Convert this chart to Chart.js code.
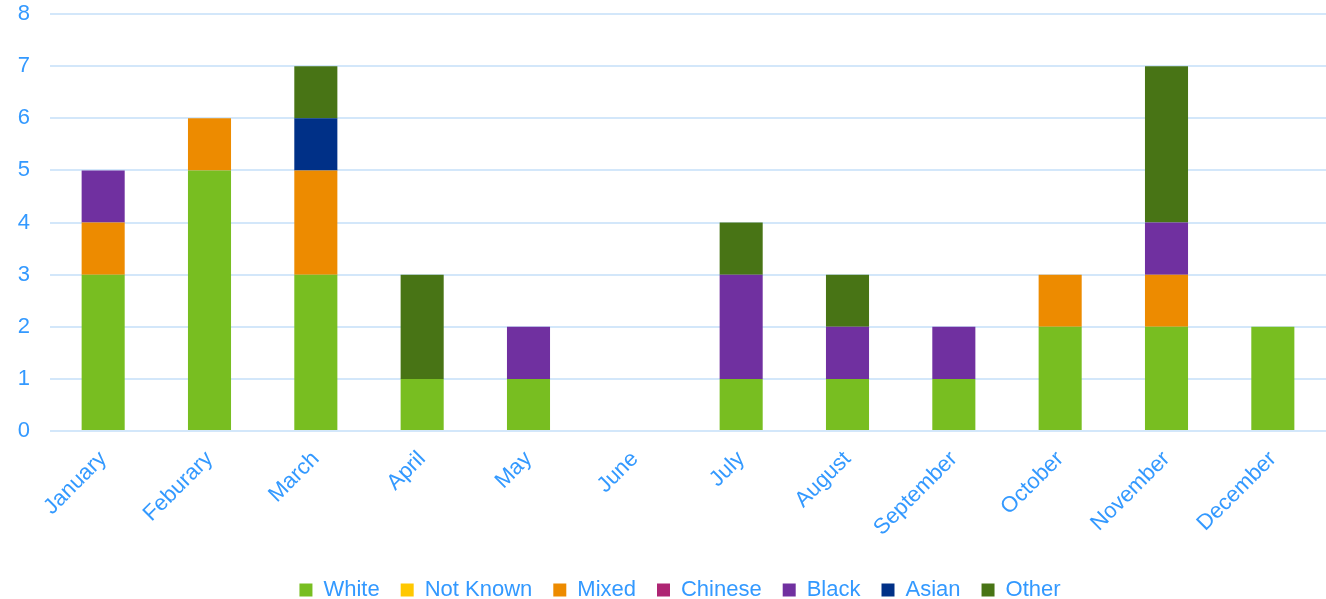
<!DOCTYPE html>
<html>
<head>
<meta charset="utf-8">
<script src="https://cdn.jsdelivr.net/npm/chart.js@4"></script>
<style>
  html, body { margin: 0; padding: 0; background: #fff; }
  #wrap { width: 1326px; height: 599px; }
</style>
</head>
<body>
<div id="wrap"><canvas id="chart"></canvas></div>
<script>
const months = ['January', 'Feburary', 'March', 'April', 'May', 'June', 'July', 'August', 'September', 'October', 'November', 'December']

const white    = [3, 5, 3, 1, 1, 0, 1, 1, 1, 2, 2, 2]
const notKnown = [0, 0, 0, 0, 0, 0, 0, 0, 0, 0, 0, 0]
const mixed    = [1, 1, 2, 0, 0, 0, 0, 0, 0, 1, 1, 0]
const chinese  = [0, 0, 0, 0, 0, 0, 0, 0, 0, 0, 0, 0]
const black    = [1, 0, 0, 0, 1, 0, 2, 1, 1, 0, 1, 0]
const asian    = [0, 0, 1, 0, 0, 0, 0, 0, 0, 0, 0, 0]
const other    = [0, 0, 1, 2, 0, 0, 1, 1, 0, 0, 3, 0]

const blue = '#3399ff'
const font = { family: "'Liberation Sans', Arial, sans-serif", size: 22, lineHeight: 1.1 }

function ds(label, data, color) {
    return {
        label: label,
        data: data,
        backgroundColor: color,
        borderWidth: 0,
        barPercentage: 0.81,
        categoryPercentage: 0.5
    }
}

// legend sits a little right of centre
const legendShift = {
    id: 'legendShift',
    afterUpdate(chart) {
        chart.legend.left += 17
        chart.legend.right += 17
    }
}

new Chart(document.getElementById('chart'), {
    type: 'bar',
    data: {
        labels: months,
        datasets: [
            ds('White', white, '#78be21'),
            ds('Not Known', notKnown, '#ffc800'),
            ds('Mixed', mixed, '#ed8b00'),
            ds('Chinese', chinese, '#ae2573'),
            ds('Black', black, '#7030a0'),
            ds('Asian', asian, '#003087'),
            ds('Other', other, '#487415')
        ]
    },
    options: {
        responsive: true,
        maintainAspectRatio: false,
        animation: false,
        layout: { padding: { left: 0, right: 0, top: 14, bottom: -12 } },
        plugins: {
            legend: {
                position: 'bottom',
                labels: {
                    color: blue,
                    font: font,
                    boxWidth: 13,
                    boxHeight: 13,
                    padding: 21
                }
            },
            tooltip: { enabled: false }
        },
        scales: {
            x: {
                stacked: true,
                grid: { display: false },
                border: { display: false },
                ticks: {
                    color: blue,
                    font: font,
                    minRotation: 45,
                    maxRotation: 45,
                    padding: 8
                },
                afterFit: s => { s.height = 127 }
            },
            y: {
                stacked: true,
                min: 0,
                max: 8,
                border: { display: false },
                grid: { color: '#d3e7fa', lineWidth: 2, drawTicks: false },
                ticks: {
                    color: blue,
                    font: font,
                    stepSize: 1,
                    padding: 20
                },
                afterFit: s => {
                    s.width = 50
                    s.paddingTop = 0
                    s.paddingBottom = 0
                }
            }
        }
    },
    plugins: [legendShift]
})
</script>
</body>
</html>
